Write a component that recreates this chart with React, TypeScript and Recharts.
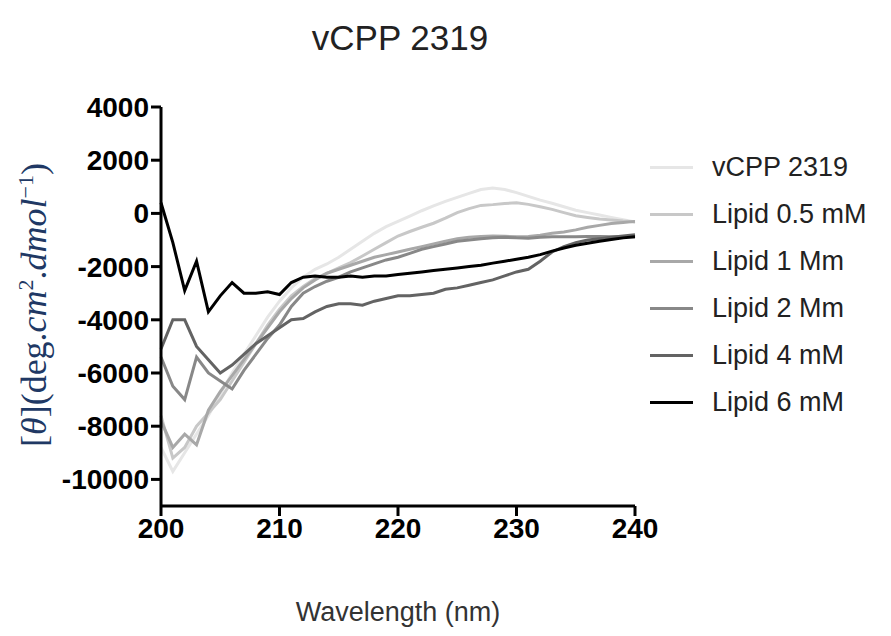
import { LineChart, Line, XAxis, YAxis } from 'recharts';

// wavelength in nm, one reading per nm
const wavelengths = [
  200, 201, 202, 203, 204, 205, 206, 207, 208, 209, 210, 211, 212, 213, 214, 215, 216, 217, 218, 219, 220,
  221, 222, 223, 224, 225, 226, 227, 228, 229, 230, 231, 232, 233, 234, 235, 236, 237, 238, 239, 240,
];

const vcpp2319 = [
  -8800, -9700, -9000, -8300, -7600, -6800, -6000, -5300, -4600, -3900, -3300, -2800, -2400, -2100, -1900, -1650,
  -1350, -1050, -750, -500, -300, -100, 100, 280, 450, 600, 750, 900, 950, 900, 780, 640, 500, 380, 250, 120, 30,
  -60, -150, -240, -320,
];
const lipid05 = [
  -7600, -9200, -8800, -8000, -7500, -7000, -6300, -5600, -4900, -4200, -3600, -3100, -2750, -2450, -2250, -2050,
  -1850, -1600, -1350, -1100, -850, -680, -520, -370, -180, 30, 180, 300, 330, 370, 400, 340, 250, 150, 30, -90,
  -150, -210, -250, -290, -320,
];
const lipid1 = [
  -7800, -8800, -8300, -8700, -7400, -6700, -6100, -5500, -4900, -4300, -3700, -3200, -2800, -2500, -2250, -2100,
  -1950, -1800, -1650, -1550, -1450, -1350, -1250, -1150, -1050, -950, -900, -870, -850, -860, -880, -870, -820,
  -750, -700, -620, -520, -450, -380, -340, -300,
];
const lipid2 = [
  -5400, -6500, -7000, -5400, -6000, -6300, -6600, -5900, -5300, -4700, -4200, -3500, -3000, -2750, -2550, -2400,
  -2200, -2050, -1900, -1750, -1650, -1500, -1350, -1250, -1150, -1050, -1000, -950, -920, -900, -920, -930, -900,
  -880, -880, -880, -870, -870, -880, -880, -880,
];
const lipid4 = [
  -5100, -4000, -4000, -5000, -5500, -6000, -5700, -5300, -4900, -4600, -4300, -4000, -3950, -3700, -3500, -3400,
  -3400, -3450, -3300, -3200, -3100, -3100, -3050, -3000, -2850, -2800, -2700, -2600, -2500, -2350, -2200, -2100,
  -1800, -1450, -1250, -1100, -1000, -950, -900, -850, -800,
];
const lipid6 = [
  400, -1100, -2900, -1800, -3700, -3100, -2600, -3000, -3000, -2950, -3050, -2600, -2400, -2350, -2400, -2400,
  -2350, -2400, -2350, -2350, -2300, -2250, -2200, -2150, -2100, -2050, -2000, -1950, -1870, -1800, -1720, -1650,
  -1550, -1420, -1300, -1200, -1120, -1050, -980, -920, -880,
];

const yTicks = [4000, 2000, 0, -2000, -4000, -6000, -8000, -10000];
const xTicks = [200, 210, 220, 230, 240];

const series = [
  { key: 'vcpp', name: 'vCPP 2319', color: '#e6e6e6', values: vcpp2319 },
  { key: 'l05', name: 'Lipid 0.5 mM', color: '#c8c8c8', values: lipid05 },
  { key: 'l1', name: 'Lipid 1 Mm', color: '#a8a8a8', values: lipid1 },
  { key: 'l2', name: 'Lipid 2 Mm', color: '#888888', values: lipid2 },
  { key: 'l4', name: 'Lipid 4 mM', color: '#636363', values: lipid4 },
  { key: 'l6', name: 'Lipid 6 mM', color: '#000000', values: lipid6 },
];

const data = wavelengths.map((w, i) => {
  const row: any = { w };
  series.forEach((s) => {
    row[s.key] = s.values[i];
  });
  return row;
});

const sans = "'Liberation Sans', Arial, sans-serif";
const tickStyle = { fill: '#000', fontSize: 28, fontWeight: 'bold', fontFamily: sans };

export default function App() {
  return (
    <div style={{ position: 'absolute', left: 0, top: 0, width: 891, height: 636, background: '#fff' }}>
      <div
        style={{
          position: 'absolute',
          left: 400,
          top: 38,
          transform: 'translate(-50%, -50%)',
          fontFamily: sans,
          fontSize: 35,
          color: '#222',
          whiteSpace: 'nowrap',
        }}
      >
        vCPP 2319
      </div>
      <div
        style={{
          position: 'absolute',
          left: 34,
          top: 305,
          transform: 'translate(-50%, -50%) rotate(-90deg)',
          fontFamily: "'Liberation Serif', serif",
          fontSize: 36,
          color: '#203864',
          whiteSpace: 'nowrap',
        }}
      >
        [<i>θ</i>](deg.<i>cm</i>
        <sup style={{ fontSize: 22 }}>2</sup>.<i>dmol</i>
        <sup style={{ fontSize: 22 }}>−1</sup>)
      </div>
      <div
        style={{
          position: 'absolute',
          left: 398,
          top: 612,
          transform: 'translate(-50%, -50%)',
          fontFamily: sans,
          fontSize: 27,
          color: '#333',
          whiteSpace: 'nowrap',
        }}
      >
        Wavelength (nm)
      </div>
      <div style={{ position: 'absolute', left: 650, top: 144, fontFamily: sans }}>
        {series.map((s) => (
          <div key={s.key} style={{ display: 'flex', alignItems: 'center', height: 47 }}>
            <div style={{ width: 43, height: 3, background: s.color }} />
            <span style={{ marginLeft: 19, fontSize: 27, color: '#222', whiteSpace: 'nowrap' }}>{s.name}</span>
          </div>
        ))}
      </div>
      <LineChart
        width={891}
        height={636}
        data={data}
        margin={{ top: 107, right: 256, bottom: 90, left: 61 }}
        style={{ position: 'absolute', left: 0, top: 0 }}
      >
        <XAxis
          dataKey="w"
          type="number"
          domain={[200, 240]}
          ticks={xTicks}
          height={40}
          axisLine={{ stroke: '#000', strokeWidth: 3 }}
          tickLine={{ stroke: '#000', strokeWidth: 3 }}
          tickSize={10}
          tickMargin={2}
          tick={tickStyle}
        />
        <YAxis
          type="number"
          domain={[-11000, 4000]}
          ticks={yTicks}
          width={100}
          interval={0}
          axisLine={{ stroke: '#000', strokeWidth: 3 }}
          tickLine={{ stroke: '#000', strokeWidth: 3 }}
          tickSize={10}
          tickMargin={2}
          tick={tickStyle}
        />
        {series.map((s) => (
          <Line
            key={s.key}
            dataKey={s.key}
            name={s.name}
            stroke={s.color}
            strokeWidth={3}
            dot={false}
            type="linear"
            isAnimationActive={false}
          />
        ))}
      </LineChart>
    </div>
  );
}
